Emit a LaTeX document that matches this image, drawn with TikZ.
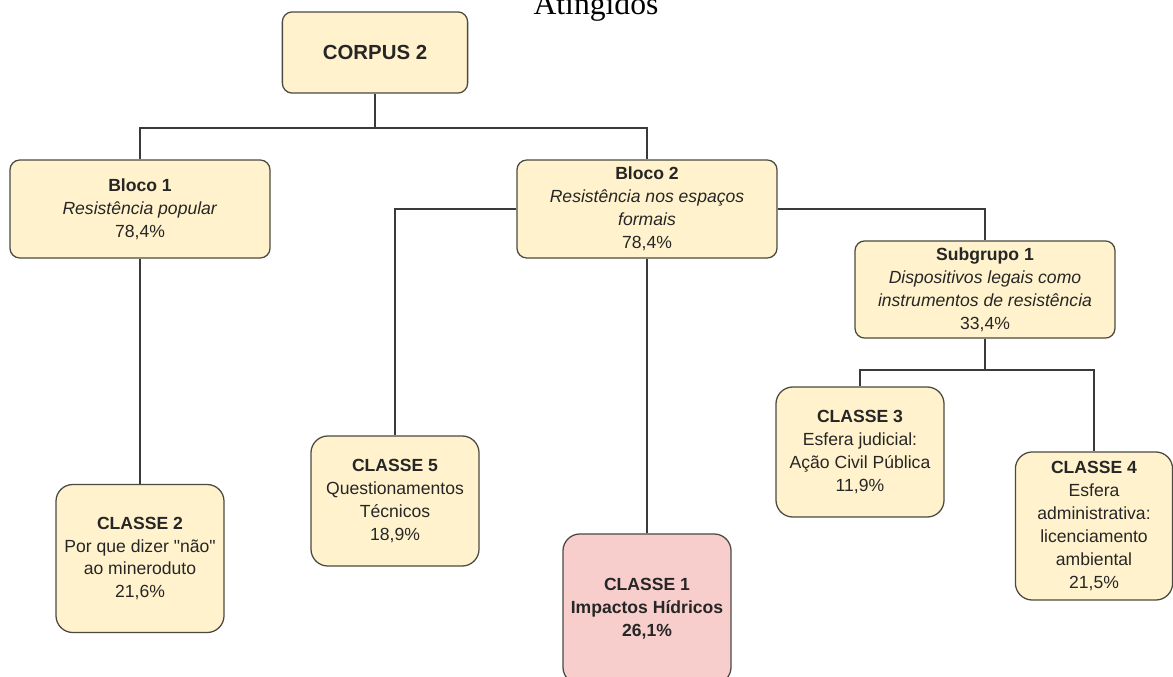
\documentclass[tikz,border=0pt]{standalone}
\usepackage{fontspec}
\setmainfont{Liberation Sans}
\newfontfamily\titlefont{Liberation Serif}
\usepackage{tikz}
\definecolor{boxfill}{HTML}{FFF2CC}
\definecolor{redfill}{HTML}{F8CECC}
\definecolor{boxline}{HTML}{4A4A42}
\definecolor{wire}{HTML}{3A3A3A}

\begin{document}
\begin{tikzpicture}[x=0.025cm,y=-0.025cm,line width=1pt,draw=wire]

		% Styles for the boxes
		\tikzstyle{block}=[rectangle,rounded corners=7pt,draw=boxline,fill=boxfill,line width=0.9pt,align=center,text=black!85,inner sep=2pt,font=\fontsize{12.5}{16.3}\selectfont]
		\tikzstyle{top block}=[block,minimum width=4.63cm,minimum height=2.03cm,font=\bfseries\fontsize{14.5}{17}\selectfont]
		\tikzstyle{group block}=[block,minimum width=6.5cm,minimum height=2.45cm]
		\tikzstyle{class block}=[block,rounded corners=12pt,minimum width=4.2cm]
		\tikzstyle{main class}=[class block,fill=redfill]

		\useasboundingbox (0,0) rectangle (1173,677);

		% Title (cut by the page)
		\node[anchor=base,font=\titlefont\fontsize{22.5}{26}\selectfont] (title) at (596,14) {Atingidos};

		% Nodes for the tree
		\node[top block] (corpus) at (375,52.5) {CORPUS 2};
		\node[group block] (bloco1) at (140,209) {\textbf{Bloco 1}\\ \textit{Resistência popular}\\ 78,4\%};
		\node[group block] (bloco2) at (647,209) {\textbf{Bloco 2}\\ \textit{Resistência nos espaços}\\ \textit{formais}\\ 78,4\%};
		\node[group block,minimum height=2.43cm] (sub1) at (985,289.5) {\textbf{Subgrupo 1}\\ \textit{Dispositivos legais como}\\ \textit{instrumentos de resistência}\\ 33,4\%};

		\node[class block,minimum height=3.7cm] (classe2) at (140,558.5) {\textbf{CLASSE 2}\\ Por que dizer \textquotedbl não\textquotedbl\\ ao mineroduto\\ 21,6\%};
		\node[class block,minimum height=3.25cm] (classe5) at (395,501) {\textbf{CLASSE 5}\\ Questionamentos\\ Técnicos\\ 18,9\%};
		\node[main class,minimum height=3.75cm,font=\bfseries\fontsize{12.5}{16.3}\selectfont] (classe1) at (647,609) {CLASSE 1\\ Impactos Hídricos\\ 26,1\%};
		\node[class block,minimum height=3.25cm] (classe3) at (860,452) {\textbf{CLASSE 3}\\ Esfera judicial:\\ Ação Civil Pública\\ 11,9\%};
		\node[class block,minimum width=3.93cm,minimum height=3.7cm] (classe4) at (1094,526) {\textbf{CLASSE 4}\\ Esfera\\ administrativa:\\ licenciamento\\ ambiental\\ 21,5\%};

		% Junction points
		\coordinate (jtop) at (375,128);
		\coordinate (jsub) at (985,370);

		% Connectors
		\draw (corpus) -- (jtop);
		\draw (jtop) -| (bloco1);
		\draw (jtop) -| (bloco2);
		\path
		(bloco1) edge (classe2)
		(bloco2) edge (classe1);
		\draw (bloco2) -| (classe5);
		\draw (bloco2) -| (sub1);
		\draw (sub1) -- (jsub);
		\draw (jsub) -| (classe3);
		\draw (jsub) -| (classe4);

	\end{tikzpicture}
\end{document}
